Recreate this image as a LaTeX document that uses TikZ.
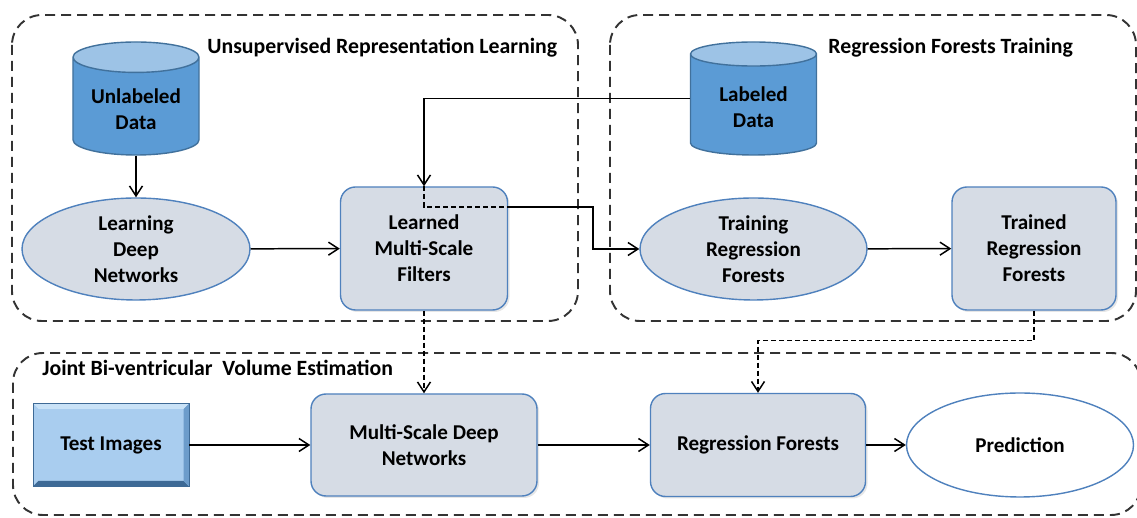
\documentclass[tikz,border=0pt]{standalone}
\usepackage{fontspec}
\setmainfont{Carlito}
\usetikzlibrary{arrows.meta,shapes.geometric,shadows}

\definecolor{dbBody}{HTML}{5B9BD5}
\definecolor{dbTop}{HTML}{9DC3E6}
\definecolor{dbEdge}{HTML}{41719C}
\definecolor{procFill}{HTML}{D6DCE5}
\definecolor{procEdge}{HTML}{4F81BD}
\definecolor{tiFace}{HTML}{A9CDEF}
\definecolor{tiLight}{HTML}{C9E2F7}
\definecolor{tiDark}{HTML}{3E6A96}
\definecolor{tiSide}{HTML}{6C9CCB}

\tikzset{
    group/.style={draw=black!80,line width=1.1pt,dash pattern=on 2mm off 1.2mm,rounded corners=6mm},
    glabel/.style={anchor=west,inner sep=0pt,font=\bfseries\fontsize{12.4}{14.8}\selectfont},
    db/.style={cylinder,shape border rotate=90,aspect=0.3,draw=dbEdge,thick,
               cylinder uses custom fill,cylinder body fill=dbBody,cylinder end fill=dbTop,
               minimum width=25.2mm,minimum height=22.6mm,align=center,anchor=shape center},
    proc/.style={rectangle,rounded corners=3mm,draw=procEdge,fill=procFill,thick,align=center,
                 drop shadow={shadow xshift=0.4mm,shadow yshift=-0.4mm,opacity=0.2}},
    oval/.style={ellipse,draw=procEdge,fill=procFill,thick,align=center,inner sep=0pt},
    tbox/.style={rectangle,draw=tiDark,fill=tiFace,minimum width=31.2mm,minimum height=16.6mm,
                 path picture={
                    \fill[tiDark] (path picture bounding box.south west) -- (path picture bounding box.south east)
                        -- ([shift={(-1.1mm,1.1mm)}]path picture bounding box.south east)
                        -- ([shift={(1.1mm,1.1mm)}]path picture bounding box.south west) -- cycle;
                    \fill[tiSide] (path picture bounding box.south east) -- (path picture bounding box.north east)
                        -- ([shift={(-1.1mm,-1.1mm)}]path picture bounding box.north east)
                        -- ([shift={(-1.1mm,1.1mm)}]path picture bounding box.south east) -- cycle;
                    \fill[tiLight] (path picture bounding box.north west) -- (path picture bounding box.north east)
                        -- ([shift={(-1.1mm,-1.1mm)}]path picture bounding box.north east)
                        -- ([shift={(1.1mm,-1.1mm)}]path picture bounding box.north west) -- cycle;
                 }},
    flow/.style={-{Straight Barb[length=2mm,width=2.6mm]},line width=0.85pt},
    link/.style={dash pattern=on 1mm off 0.6mm}
}

\begin{document}
\begin{tikzpicture}[x=0.2mm,y=-0.2mm,font=\bfseries\fontsize{12}{14.8}\selectfont]
    \useasboundingbox (0,0) rectangle (1137,518);

    \draw [group] (12,15) rectangle (578,321);
    \draw [group] (610,15) rectangle (1136,321);
    \draw [group] (13,353) rectangle (1141,515);

    \node [glabel] (lblLearn) at (207,48) {Unsupervised Representation Learning};
    \node [glabel] (lblTrain) at (828,48) {Regression Forests Training};
    \node [glabel] (lblJoint) at (42,368) {Joint Bi-ventricular\ \ Volume Estimation};

    \node [db] (unlabeled) at (136,98.5) {Unlabeled\\Data};
    \node [db] (labeled) at (753.5,98.5) {Labeled\\Data};

    \node [oval,minimum width=45.6mm,minimum height=20.4mm] (deepnet) at (136,249) {Learning\\Deep\\Networks};
    \node [proc,minimum width=33.4mm,minimum height=24.6mm] (filters) at (424,248.5) {Learned\\Multi-Scale\\Filters};
    \node [oval,minimum width=45.4mm,minimum height=20.4mm] (training) at (753.5,249) {Training\\Regression\\Forests};
    \node [proc,minimum width=32.8mm,minimum height=24.6mm] (trained) at (1034,248.5) {Trained\\Regression\\Forests};

    \node [tbox] (test) at (111,445) {Test Images};
    \node [proc,minimum width=45.2mm,minimum height=20.4mm] (msdeep) at (424,445) {Multi-Scale Deep\\Networks};
    \node [proc,minimum width=43mm,minimum height=20.6mm] (forests) at (758,445) {Regression Forests};
    \node [oval,fill=white,minimum width=45.4mm,minimum height=20.8mm] (predict) at (1020,445) {Prediction};

    \coordinate (split) at (424,207);
    \coordinate (bend) at (593,207);

    \draw [flow] (unlabeled.south) -- (deepnet.north);
    \draw [flow] (deepnet) -- (filters);
    \draw [flow] (labeled.west |- labeled.shape center) -| (filters.north);
    \draw [link,line width=0.85pt] (filters.north) -- (split) -- (split -| filters.east);
    \draw [flow] (split -| filters.east) -- (bend) |- (training.west);
    \draw [flow] (training) -- (trained);
    \draw [flow,link] (filters.south) -- (msdeep.north);
    \draw [flow,link] (trained.south) -- ++(0,30) -| (forests.north);
    \draw [flow] (test) -- (msdeep);
    \draw [flow] (msdeep) -- (forests);
    \draw [flow] (forests) -- (predict);
\end{tikzpicture}
\end{document}
